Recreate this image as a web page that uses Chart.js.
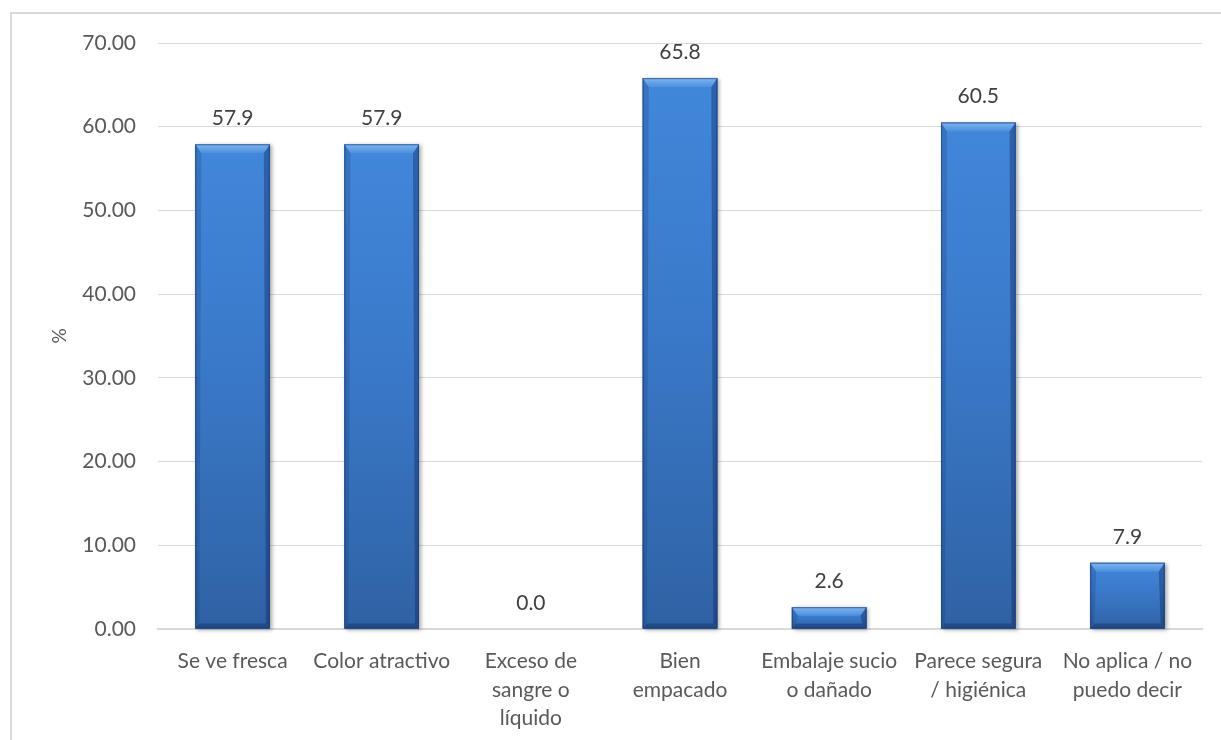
<!DOCTYPE html>
<html lang="es">
<head>
<meta charset="utf-8">
<title>Atributos percibidos</title>
<script src="https://cdn.jsdelivr.net/npm/chart.js@4/dist/chart.umd.min.js"></script>
<style>
  html, body { margin: 0; padding: 0; background: #ffffff; }
  #wrap { width: 1221px; height: 740px; }
</style>
</head>
<body>
<div id="wrap"><canvas id="chart" width="1221" height="740"></canvas></div>
<script>
// Categories (multi-line labels as arrays)
const categories = [
  'Se ve fresca',
  'Color atractivo',
  ['Exceso de', 'sangre o', 'líquido'],
  ['Bien', 'empacado'],
  ['Embalaje sucio', 'o dañado'],
  ['Parece segura', '/ higiénica'],
  ['No aplica / no', 'puedo decir']
];

// Percentages per category
const percentValues = [57.9, 57.9, 0.0, 65.8, 2.6, 60.5, 7.9];

// Y-axis tick range
const yTicks = { min: 0, max: 70, step: 10 };

const FONT = 'Lato, "Open Sans", "DejaVu Sans", sans-serif';

// Light frame around the chart
const framePlugin = {
  id: 'frame',
  beforeDraw(chart) {
    const ctx = chart.ctx;
    ctx.save();
    ctx.fillStyle = '#ffffff';
    ctx.fillRect(0, 0, chart.width, chart.height);
    ctx.strokeStyle = '#d9d9d9';
    ctx.lineWidth = 2;
    ctx.strokeRect(11, 13, chart.width + 20, chart.height + 20);
    ctx.restore();
  }
};

// Beveled, shaded bars painted over each bar element
const bevelPlugin = {
  id: 'bevel',
  afterDatasetsDraw(chart) {
    const ctx = chart.ctx;
    const meta = chart.getDatasetMeta(0);
    meta.data.forEach((bar) => {
      const p = bar.getProps(['x', 'y', 'width', 'base'], true);
      const left = p.x - p.width / 2;
      const right = p.x + p.width / 2;
      const top = Math.min(p.y, p.base);
      const bottom = Math.max(p.y, p.base);
      const h = bottom - top;
      if (h < 1) return;
      const bt = Math.min(9, h * 0.4);
      const bs = Math.min(4, p.width * 0.1);
      const bb = Math.min(5, h * 0.25);

      ctx.save();
      // soft shadow to the right/bottom
      ctx.shadowColor = 'rgba(0,0,0,0.35)';
      ctx.shadowBlur = 4;
      ctx.shadowOffsetX = 2;
      ctx.shadowOffsetY = 1;
      ctx.fillStyle = '#2f64a8';
      ctx.fillRect(left, top, p.width, h);
      ctx.restore();

      ctx.save();
      // body gradient
      const g = ctx.createLinearGradient(0, top, 0, bottom);
      g.addColorStop(0, '#4187da');
      g.addColorStop(0.45, '#3a79c9');
      g.addColorStop(1, '#2f62a4');
      ctx.fillStyle = g;
      ctx.fillRect(left, top, p.width, h);

      // top bevel (light)
      const gt = ctx.createLinearGradient(0, top, 0, top + bt);
      gt.addColorStop(0, '#7fb5ef');
      gt.addColorStop(1, '#4a90df');
      ctx.fillStyle = gt;
      ctx.beginPath();
      ctx.moveTo(left, top);
      ctx.lineTo(right, top);
      ctx.lineTo(right - bs - 2, top + bt);
      ctx.lineTo(left + bs + 2, top + bt);
      ctx.closePath();
      ctx.fill();

      // left bevel
      ctx.fillStyle = 'rgba(20,50,110,0.22)';
      ctx.beginPath();
      ctx.moveTo(left, top);
      ctx.lineTo(left + bs + 2, top + bt);
      ctx.lineTo(left + bs, bottom - bb);
      ctx.lineTo(left, bottom);
      ctx.closePath();
      ctx.fill();

      // right bevel
      ctx.fillStyle = 'rgba(10,30,80,0.35)';
      ctx.beginPath();
      ctx.moveTo(right, top);
      ctx.lineTo(right - bs - 2, top + bt);
      ctx.lineTo(right - bs, bottom - bb);
      ctx.lineTo(right, bottom);
      ctx.closePath();
      ctx.fill();

      // bottom bevel
      ctx.fillStyle = 'rgba(10,30,80,0.35)';
      ctx.beginPath();
      ctx.moveTo(left, bottom);
      ctx.lineTo(left + bs, bottom - bb);
      ctx.lineTo(right - bs, bottom - bb);
      ctx.lineTo(right, bottom);
      ctx.closePath();
      ctx.fill();

      // thin dark outline
      ctx.strokeStyle = 'rgba(25,55,110,0.6)';
      ctx.lineWidth = 1;
      ctx.strokeRect(left + 0.5, top + 0.5, p.width - 1, h - 1);
      ctx.restore();
    });
  }
};

// Value labels above bars
const valueLabelPlugin = {
  id: 'valueLabels',
  afterDatasetsDraw(chart) {
    const ctx = chart.ctx;
    const meta = chart.getDatasetMeta(0);
    const data = chart.data.datasets[0].data;
    ctx.save();
    ctx.font = '21px ' + FONT;
    ctx.fillStyle = '#404040';
    ctx.textAlign = 'center';
    ctx.textBaseline = 'middle';
    meta.data.forEach((bar, i) => {
      ctx.fillText(data[i].toFixed(1), bar.x, bar.y - 26);
    });
    ctx.restore();
  }
};

new Chart(document.getElementById('chart'), {
  type: 'bar',
  data: {
    labels: categories,
    datasets: [{
      data: percentValues,
      backgroundColor: '#3a78c8',
      borderWidth: 0,
      categoryPercentage: 1.0,
      barPercentage: 0.5
    }]
  },
  options: {
    responsive: false,
    animation: false,
    events: [],
    layout: { padding: { left: 0, right: 19, top: 43, bottom: 0 } },
    plugins: {
      legend: { display: false },
      tooltip: { enabled: false }
    },
    scales: {
      x: {
        grid: { display: false, drawTicks: false },
        border: { display: true, color: '#d9d9d9', width: 2 },
        ticks: {
          color: '#595959',
          font: { family: FONT, size: 21, lineHeight: 1.36 },
          padding: 18,
          maxRotation: 0,
          autoSkip: false
        },
        afterFit(scale) { scale.height = 111; }
      },
      y: {
        min: yTicks.min,
        max: yTicks.max,
        grid: { color: '#d9d9d9', lineWidth: 1, drawTicks: false },
        border: { display: false },
        ticks: {
          stepSize: yTicks.step,
          color: '#595959',
          font: { family: FONT, size: 21 },
          padding: 22,
          callback: (v) => v.toFixed(2)
        },
        title: {
          display: true,
          text: '%',
          color: '#595959',
          font: { family: FONT, size: 19 },
          padding: { top: 48, bottom: 0 }
        },
        afterFit(scale) { scale.width = 158; }
      }
    }
  },
  plugins: [framePlugin, bevelPlugin, valueLabelPlugin]
});
</script>
</body>
</html>
